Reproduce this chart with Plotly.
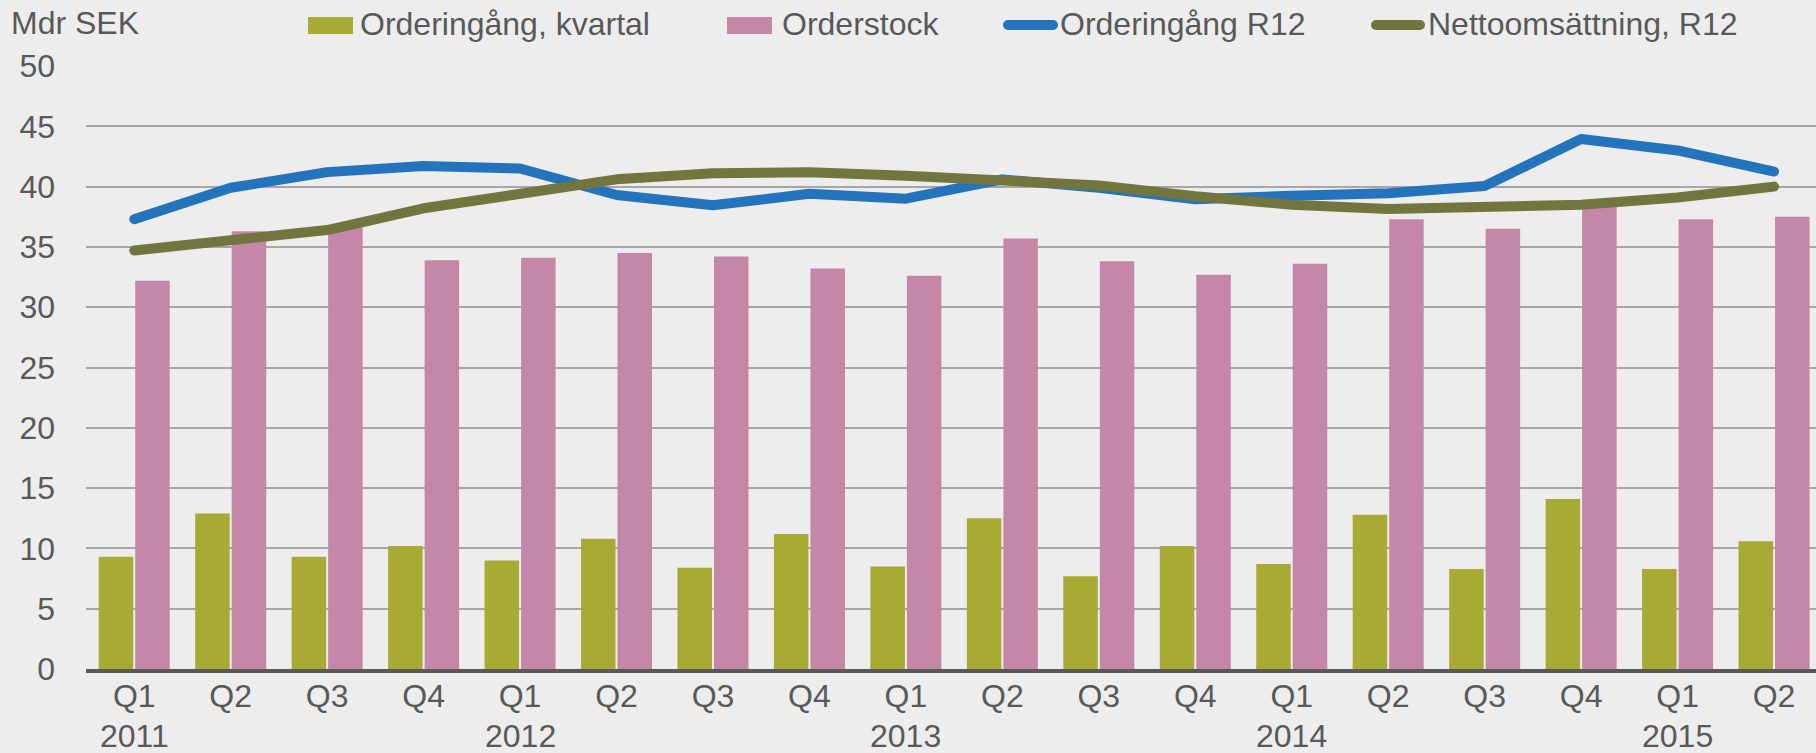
import plotly.graph_objects as go

# ---- data ----
categories = ["Q1 2011", "Q2 2011", "Q3 2011", "Q4 2011",
              "Q1 2012", "Q2 2012", "Q3 2012", "Q4 2012",
              "Q1 2013", "Q2 2013", "Q3 2013", "Q4 2013",
              "Q1 2014", "Q2 2014", "Q3 2014", "Q4 2014",
              "Q1 2015", "Q2 2015"]
quarter_labels = ["Q1", "Q2", "Q3", "Q4", "Q1", "Q2", "Q3", "Q4", "Q1",
                  "Q2", "Q3", "Q4", "Q1", "Q2", "Q3", "Q4", "Q1", "Q2"]
year_labels = ["2011", "2012", "2013", "2014", "2015"]
year_positions = ["Q1 2011", "Q1 2012", "Q1 2013", "Q1 2014", "Q1 2015"]

order_intake_quarter = [9.3, 12.9, 9.3, 10.2, 9.0, 10.8, 8.4, 11.2, 8.5,
                        12.5, 7.7, 10.2, 8.7, 12.8, 8.3, 14.1, 8.3, 10.6]
order_backlog = [32.2, 36.3, 36.8, 33.9, 34.1, 34.5, 34.2, 33.2, 32.6,
                 35.7, 33.8, 32.7, 33.6, 37.3, 36.5, 38.5, 37.3, 37.5]
order_intake_r12 = [37.3, 39.9, 41.2, 41.7, 41.5, 39.3, 38.45, 39.4, 39.0,
                    40.6, 39.9, 38.95, 39.25, 39.45, 40.05, 43.95, 43.0, 41.25]
net_sales_r12 = [34.7, 35.6, 36.4, 38.2, 39.5, 40.6, 41.1, 41.2, 40.9,
                 40.55, 40.1, 39.2, 38.5, 38.15, 38.3, 38.5, 39.1, 40.0]

series_names = ["Orderingång, kvartal", "Orderstock", "Orderingång R12", "Nettoomsättning, R12"]
series_colors = ["#A8AB33", "#C487A8", "#2373BD", "#72763E"]
y_title = "Mdr SEK"

# ---- layout geometry (pixels) ----
W, H = 1816, 753
ML, MR, MT, MB = 86, 0, 66, 84
PW = W - ML - MR
PH = H - MT - MB
FONT = "Liberation Sans, Arial, sans-serif"
TXT = "#595959"
BG = "#EDEDED"


def px_x(p):
    return (p - ML) / PW


def px_y(p):
    return (H - MB - p) / PH


fig = go.Figure()
fig.add_trace(go.Bar(x=categories, y=order_intake_quarter, name=series_names[0],
                     marker=dict(color=series_colors[0], line=dict(width=0))))
fig.add_trace(go.Bar(x=categories, y=order_backlog, name=series_names[1],
                     marker=dict(color=series_colors[1], line=dict(width=0))))
fig.add_trace(go.Scatter(x=categories, y=order_intake_r12, name=series_names[2], mode="lines",
                         line=dict(color=series_colors[2], width=10)))
fig.add_trace(go.Scatter(x=categories, y=net_sales_r12, name=series_names[3], mode="lines",
                         line=dict(color=series_colors[3], width=10)))

# manual legend
shapes = []
annotations = []
sw = [(308, 353, 358), (727, 772, 780), (1003, 1058, 1058), (1371, 1425, 1426)]
for i, (x0, x1, tx) in enumerate(sw):
    if i < 2:
        shapes.append(dict(type="rect", xref="paper", yref="paper",
                           x0=px_x(x0), x1=px_x(x1), y0=px_y(34), y1=px_y(17),
                           fillcolor=series_colors[i], line=dict(width=0)))
    else:
        shapes.append(dict(type="line", xref="paper", yref="paper",
                           x0=px_x(x0 + 5), x1=px_x(x1 - 5), y0=px_y(25), y1=px_y(25),
                           line=dict(color=series_colors[i], width=10)))
    annotations.append(dict(text=series_names[i], xref="paper", yref="paper",
                            x=px_x(tx), y=px_y(24), xanchor="left", yanchor="middle",
                            showarrow=False, font=dict(size=32, color=TXT, family=FONT)))

annotations.append(dict(text=y_title, xref="paper", yref="paper",
                        x=px_x(9), y=px_y(23), xanchor="left", yanchor="middle",
                        showarrow=False, font=dict(size=32, color=TXT, family=FONT)))
for yl, xp in zip(year_labels, year_positions):
    annotations.append(dict(text=yl, xref="x", yref="paper", x=xp, y=px_y(736),
                            xanchor="center", yanchor="middle", showarrow=False,
                            font=dict(size=32, color=TXT, family=FONT)))

fig.update_layout(
    width=W, height=H, autosize=False,
    margin=dict(l=ML, r=MR, t=MT, b=MB, pad=0),
    paper_bgcolor=BG, plot_bgcolor=BG,
    barmode="group", bargap=0.243, bargroupgap=0.055,
    showlegend=False,
    font=dict(family=FONT, size=32, color=TXT),
    shapes=shapes, annotations=annotations,
)
fig.update_xaxes(type="category", range=[-0.5, 17.435],
                 tickvals=categories, ticktext=quarter_labels,
                 showgrid=False, showline=True, linecolor="#595959", linewidth=4,
                 ticks="", tickfont=dict(size=32, color=TXT, family=FONT),
                 ticklabelstandoff=-4, zeroline=False)
fig.update_yaxes(range=[0, 50], dtick=5, showgrid=True, gridcolor="#A6A6A6", gridwidth=2,
                 zeroline=False, showline=False, ticks="",
                 tickfont=dict(size=32, color=TXT, family=FONT), ticklabelstandoff=30)

post = ("document.body.style.margin='0';document.body.style.overflow='hidden';"
        "document.body.style.background='#EDEDED';"
        "document.querySelectorAll('.scatterlayer path.js-line').forEach(function(p){"
        "p.style.strokeLinecap='round';p.style.strokeLinejoin='round';});"
        "document.querySelectorAll('.shapelayer path').forEach(function(p){"
        "p.style.strokeLinecap='round';});")
fig.write_html("out.html", post_script=post, config={"displayModeBar": False})
